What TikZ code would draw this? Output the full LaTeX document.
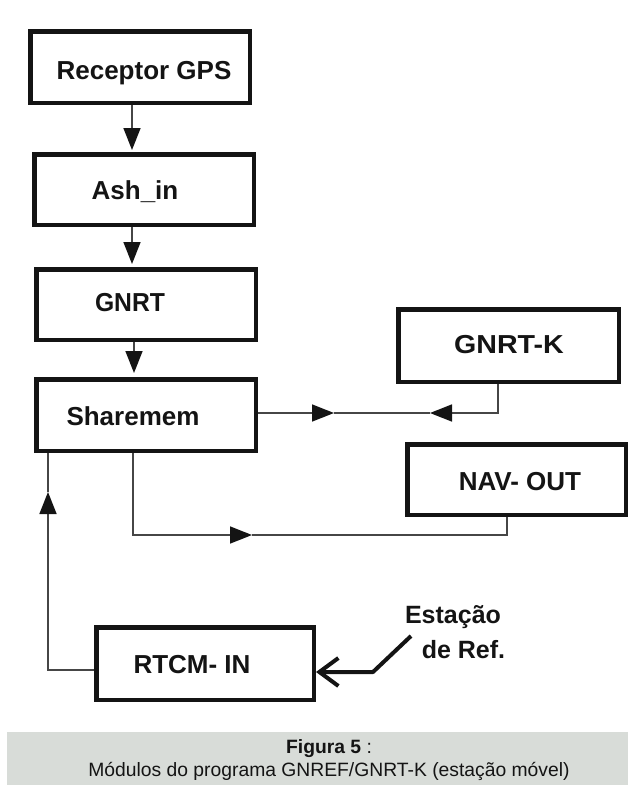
\documentclass[tikz,border=0pt]{standalone}
\usepackage{fontspec}
\setmainfont{Liberation Sans}
\usetikzlibrary{arrows.meta,calc}
\definecolor{capgrey}{RGB}{216,220,216}
\definecolor{linegrey}{RGB}{70,70,70}
\definecolor{ink}{RGB}{20,20,20}
\begin{document}
\begin{tikzpicture}[x=1pt,y=-1pt,
  modbox/.style={draw=ink, line width=4.5pt, inner sep=0pt, fill=white},
  lbl/.style={font=\fontsize{26}{26}\selectfont\bfseries, text=ink, anchor=base, inner sep=0pt},
  conn/.style={draw=linegrey, line width=1.6pt},
  tri/.style={-{Triangle[length=22pt,width=17pt,color=ink]}},
  caption/.style={font=\fontsize{19.3}{19.3}\selectfont, text=ink, anchor=base, inner sep=0pt}
]
\useasboundingbox (0,0) rectangle (628,785);
\fill[capgrey] (7,732) rectangle (628,785);

% boxes (outer size minus line width)
\node[modbox, minimum width=219.5pt, minimum height=71.5pt] (rec) at (140,67) {};
\node[modbox, minimum width=219.5pt, minimum height=70.5pt] (ash) at (144,189.5) {};
\node[modbox, minimum width=219.5pt, minimum height=70.5pt] (gnrt) at (146,304.5) {};
\node[modbox, minimum width=219.5pt, minimum height=71.5pt] (sm) at (146,415) {};
\node[modbox, minimum width=220.5pt, minimum height=72.5pt] (gk) at (508.5,345.5) {};
\node[modbox, minimum width=218.5pt, minimum height=70.5pt] (nav) at (516.5,479.5) {};
\node[modbox, minimum width=217.5pt, minimum height=72.5pt] (rt) at (205,663.5) {};

% labels
\node[lbl] (trec) at (144,79) {Receptor GPS};
\node[lbl] (tash) at (135,199) {Ash\_in};
\node[lbl] (tgnrt) at (130,311) {\scalebox{0.95}[1]{GNRT}};
\node[lbl] (tsm) at (133,425) {Sharemem};
\node[lbl] (tgk) at (509,353) {\scalebox{1.1}[1]{GNRT-K}};
\node[lbl] (tnav) at (520,490) {NAV- OUT};
\node[lbl] (trt) at (192,673) {RTCM- IN};

% vertical chain
\coordinate (c1) at (132,0);
\coordinate (c2) at (132,0);
\coordinate (c3) at (134,0);
\draw[conn,tri,shorten >=2pt] (c1 |- rec.south) -- (c1 |- ash.north);
\draw[conn,tri,shorten >=3pt] (c2 |- ash.south) -- (c2 |- gnrt.north);
\draw[conn,tri,shorten >=4pt] (c3 |- gnrt.south) -- (c3 |- sm.north);

% Sharemem <-> GNRT-K
\coordinate (m1) at (334,413);
\coordinate (m2) at (430,413);
\coordinate (gkx) at (498,0);
\draw[conn,tri] (sm.east |- m1) -- (m1);
\draw[conn] (m1) -- (m2);
\draw[conn,tri] (gkx |- gk.south) |- (m2);

% Sharemem -> NAV-OUT
\coordinate (sx) at (133,0);
\coordinate (l1) at (252,535);
\coordinate (nx) at (507,0);
\draw[conn,tri] (sx |- sm.south) |- (l1);
\draw[conn] (l1) -| (nx |- nav.south);

% RTCM-IN -> Sharemem
\coordinate (u1) at (48,492);
\coordinate (ry) at (0,670);
\draw[conn,tri] (rt.west |- ry) -| (u1);
\draw[conn] (u1) -- (u1 |- sm.south);

% Estacao de Ref. input
\node[font=\fontsize{25}{25}\selectfont\bfseries, text=ink, anchor=base, inner sep=0pt] (est) at (453,623) {Estação};
\node[font=\fontsize{25}{25}\selectfont\bfseries, text=ink, anchor=base, inner sep=0pt] (ref) at (463.5,658) {de Ref.};
\coordinate (e1) at (411,636);
\coordinate (e2) at (373,672);
\draw[draw=ink, line width=4pt, line join=round, -{Straight Barb[length=19pt,width=28pt,line width=4pt]}] (e1) -- (e2) -- (e2 -| rt.east);

% caption
\node[caption] (cap1) at (329,753) {\textbf{Figura 5} :};
\node[caption] (cap2) at (329,776) {Módulos do programa GNREF/GNRT-K (estação móvel)};
\end{tikzpicture}
\end{document}
